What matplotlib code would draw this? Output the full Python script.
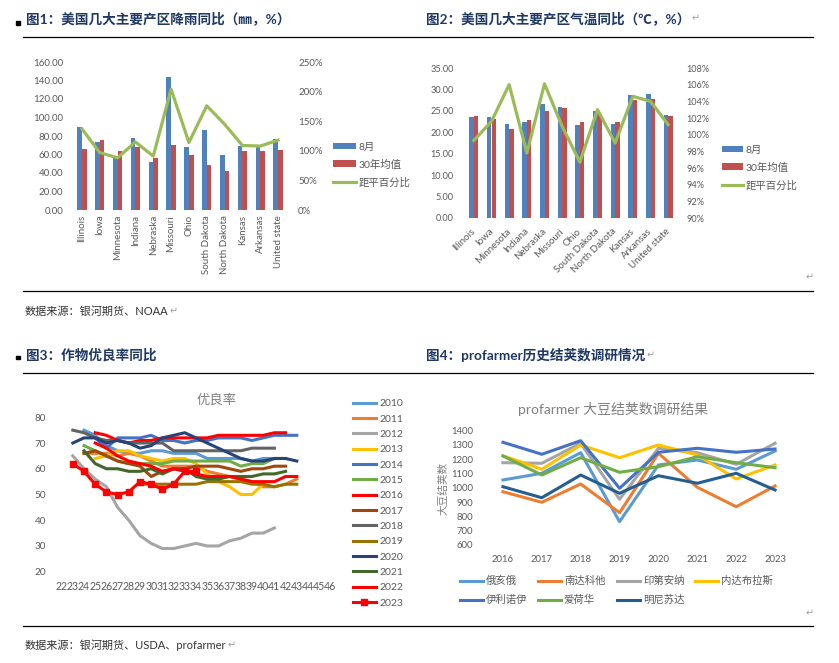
import numpy as np
import matplotlib
matplotlib.use("Agg")
import matplotlib.pyplot as plt
from matplotlib.lines import Line2D
from matplotlib.patches import Rectangle
from matplotlib.ticker import FuncFormatter

plt.rcParams['font.family'] = ['Lato', 'Noto Sans CJK SC', 'DejaVu Sans']

W, H = 839, 663
GRAY = '#595959'
NAVY = '#1F3864'

# ---- chart 1 / 2 data: rain and temperature by state ----
states = ['Illinois', 'Iowa', 'Minnesota', 'Indiana', 'Nebraska', 'Missouri', 'Ohio',
          'South Dakota', 'North Dakota', 'Kansas', 'Arkansas', 'United state']
rain_aug = [89.5, 73, 57.5, 78, 52, 143.5, 68.5, 87, 60, 69.5, 68.5, 77]
rain_avg = [66, 76, 64, 68.5, 56, 70, 60, 49, 42, 64, 64, 65]
rain_pct = [137, 97, 88, 115, 91, 204, 114, 176, 145, 109, 108, 118]

temp_aug = [23.6, 23.5, 21.9, 22.5, 26.5, 25.9, 21.7, 24.9, 22.0, 28.7, 28.9, 24.1]
temp_avg = [23.8, 23.1, 20.7, 22.9, 25.0, 25.7, 22.5, 24.2, 22.3, 27.5, 27.7, 23.9]
temp_pct = [99.3, 101.6, 106.0, 97.8, 106.1, 101.0, 96.7, 103.0, 99.0, 104.6, 104.0, 101.2]

# ---- chart 3 data: good/excellent rating by week ----
weeks = list(range(22, 47))
years = ['2010', '2011', '2012', '2013', '2014', '2015', '2016',
         '2017', '2018', '2019', '2020', '2021', '2022', '2023']
start_week = [24, 24, 23, 25, 25, 24, 25, 24, 23, 29, 23, 24, 25, 23]
gd_2010 = [75, 73, 69, 67, 66, 66, 67, 67, 66, 66, 66, 64, 64, 64, 64, 63, 64, 64]
gd_2011 = [66, 66, 66, 65, 66, 65, 63, 61, 61, 61, 61, 59, 58, 57, 56, 55, 53, 53, 54, 56]
gd_2012 = [65, 60, 56, 53, 45, 40, 34, 31, 29, 29, 30, 31, 30, 30, 32, 33, 35, 35, 37]
gd_2013 = [64, 65, 67, 67, 65, 64, 63, 64, 64, 62, 58, 55, 53, 50, 50, 54]
gd_2014 = [72, 68, 72, 72, 72, 73, 71, 71, 70, 71, 71, 72, 72, 72, 71, 72, 73, 73, 73]
gd_2015 = [69, 67, 65, 63, 62, 62, 62, 62, 63, 63, 63, 63, 63, 63, 61, 62, 62, 64, 64]
gd_2016 = [74, 73, 71, 70, 71, 71, 72, 72, 72, 72, 72, 73, 73, 73, 73, 73, 74, 74]
gd_2017 = [66, 67, 65, 63, 62, 61, 57, 59, 60, 60, 61, 61, 61, 60, 59, 60, 60, 61, 61]
gd_2018 = [75, 74, 72, 71, 71, 70, 70, 70, 70, 67, 67, 67, 67, 67, 67, 67, 68, 68, 68]
gd_2019 = [54, 54, 54, 54, 54, 54, 55, 55, 55, 55, 54, 54, 53, 54, 54]
gd_2020 = [70, 72, 72, 70, 71, 70, 68, 69, 72, 73, 74, 72, 70, 68, 66, 64, 63, 63, 64, 64, 63]
gd_2021 = [67, 62, 60, 60, 59, 59, 60, 58, 60, 60, 57, 56, 56, 57, 57, 57, 58, 58, 59]
gd_2022 = [70, 68, 65, 63, 62, 61, 59, 60, 59, 58, 57, 57, 57, 56, 55, 55, 55, 57, 57]
gd_2023 = [62, 59, 54, 51, 50, 51, 55, 54, 52, 54, 59, 59]
gd_all = [gd_2010, gd_2011, gd_2012, gd_2013, gd_2014, gd_2015, gd_2016,
          gd_2017, gd_2018, gd_2019, gd_2020, gd_2021, gd_2022, gd_2023]
year_colors = ['#5B9BD5', '#ED7D31', '#A5A5A5', '#FFC000', '#4472C4', '#70AD47', '#FF0000',
               '#9E480E', '#636363', '#997300', '#264478', '#43682B', '#FF0000', '#FF0000']

# ---- chart 4 data: profarmer pod counts ----
tour_years = ['2016', '2017', '2018', '2019', '2020', '2021', '2022', '2023']
pods_ohio = [1055, 1102, 1246, 763, 1160, 1195, 1130, 1258]
pods_sd = [973, 899, 1027, 826, 1242, 1004, 868, 1013]
pods_indiana = [1176, 1172, 1312, 920, 1277, 1246, 1165, 1312]
pods_nebraska = [1225, 1130, 1300, 1211, 1300, 1230, 1062, 1160]
pods_illinois = [1319, 1235, 1330, 997, 1249, 1277, 1249, 1272]
pods_iowa = [1223, 1090, 1211, 1109, 1148, 1218, 1176, 1141]
pods_minnesota = [1008, 931, 1090, 962, 1085, 1032, 1102, 985]
tour_states = ['俄亥俄', '南达科他', '印第安纳', '内达布拉斯', '伊利诺伊', '爱荷华', '明尼苏达']
tour_colors = ['#5B9BD5', '#ED7D31', '#A5A5A5', '#FFC000', '#4472C4', '#70AD47', '#255E91']


def box(l, t, r, b):
    return [l / W, 1 - b / H, (r - l) / W, (b - t) / H]


def fpt(x, y):
    return x / W, 1 - y / H


def clean(ax):
    for s in ax.spines.values():
        s.set_visible(False)
    ax.tick_params(length=0, labelcolor=GRAY)


fig = plt.figure(figsize=(W / 100, H / 100), dpi=100)

# ---------------- chart 1 ----------------
ax1 = fig.add_axes(box(73, 62, 287, 210))
x = np.arange(len(states))
b1 = ax1.bar(x - 0.13, rain_aug, 0.26, color='#4F81BD')
b2 = ax1.bar(x + 0.13, rain_avg, 0.26, color='#C0504D')
ax1.set_xlim(-0.5, len(states) - 0.5)
ax1.set_ylim(0, 160)
ax1.set_yticks(np.arange(0, 161, 20))
ax1.yaxis.set_major_formatter(FuncFormatter(lambda v, p: f'{v:.2f}'))
ax1.set_xticks(x)
ax1.set_xticklabels(states, rotation=90)
clean(ax1)
ax1.tick_params(axis='y', labelsize=7, pad=7)
ax1.tick_params(axis='x', labelsize=7, pad=3.5)
ax1r = ax1.twinx()
l1, = ax1r.plot(x, rain_pct, color='#9BBB59', lw=2.3)
ax1r.set_ylim(0, 250)
ax1r.set_yticks(np.arange(0, 251, 50))
ax1r.yaxis.set_major_formatter(FuncFormatter(lambda v, p: f'{v:.0f}%'))
clean(ax1r)
ax1r.tick_params(labelsize=7, pad=8)
ax1r.legend([b1, b2, l1], ['8月', '30年均值', '距平百分比'], loc='center left',
            bbox_to_anchor=fpt(333, 165), bbox_transform=fig.transFigure, frameon=False,
            fontsize=7.5, handlelength=2.2, handleheight=0.6, handletextpad=0.25,
            labelspacing=0.75, borderpad=0, borderaxespad=0, labelcolor=GRAY)

# ---------------- chart 2 ----------------
ax2 = fig.add_axes(box(465, 68, 677, 218))
b3 = ax2.bar(x - 0.13, temp_aug, 0.26, color='#4F81BD')
b4 = ax2.bar(x + 0.13, temp_avg, 0.26, color='#C0504D')
ax2.set_xlim(-0.5, len(states) - 0.5)
ax2.set_ylim(0, 35)
ax2.set_yticks(np.arange(0, 35.1, 5))
ax2.yaxis.set_major_formatter(FuncFormatter(lambda v, p: f'{v:.2f}'))
ax2.set_xticks(x)
ax2.set_xticklabels(states, rotation=45, ha='right', va='center', rotation_mode='anchor')
clean(ax2)
ax2.tick_params(axis='y', labelsize=6.6, pad=8)
ax2.tick_params(axis='x', labelsize=7, pad=8.5)
ax2r = ax2.twinx()
l2, = ax2r.plot(x, temp_pct, color='#9BBB59', lw=2.3)
ax2r.set_ylim(90, 108)
ax2r.set_yticks(np.arange(90, 108.1, 2))
ax2r.yaxis.set_major_formatter(FuncFormatter(lambda v, p: f'{v:.0f}%'))
clean(ax2r)
ax2r.tick_params(labelsize=6.6, pad=7)
ax2r.legend([b3, b4, l2], ['8月', '30年均值', '距平百分比'], loc='center left',
            bbox_to_anchor=fpt(722, 168), bbox_transform=fig.transFigure, frameon=False,
            fontsize=7.5, handlelength=2.0, handleheight=0.6, handletextpad=0.25,
            labelspacing=0.75, borderpad=0, borderaxespad=0, labelcolor=GRAY)

# ---------------- chart 3 ----------------
ax3 = fig.add_axes(box(56, 417.3, 336, 571.7))
handles = []
for yr, st, vals, c in zip(years, start_week, gd_all, year_colors):
    wk = np.arange(st, st + len(vals))
    if yr == '2023':
        h, = ax3.plot(wk, vals, color=c, lw=2.2, marker='s', ms=4.5)
    else:
        h, = ax3.plot(wk, vals, color=c, lw=2.2)
    handles.append(h)
ax3.set_xlim(weeks[0] - 0.5, weeks[-1] + 0.5)
ax3.set_ylim(20, 80)
ax3.set_yticks(np.arange(20, 81, 10))
ax3.set_xticks(weeks)
ax3.set_xticklabels([str(w) for w in weeks])
clean(ax3)
ax3.tick_params(axis='y', labelsize=7.2, pad=7)
ax3.tick_params(axis='x', labelsize=7.6, pad=6.5)
fig.text(*fpt(217, 400), '优良率', fontsize=9.6, color='#7F7F7F', ha='center', va='center')
ax3.legend(handles, years, loc='upper left', bbox_to_anchor=fpt(353, 399),
           bbox_transform=fig.transFigure, frameon=False, fontsize=7.5, handlelength=2.2,
           handletextpad=0.3, labelspacing=0.58, borderpad=0, borderaxespad=0,
           labelcolor=GRAY)

# ---------------- chart 4 ----------------
ax4 = fig.add_axes(box(483.5, 430.7, 794.5, 545))
xi = np.arange(len(tour_years))
pods_all = [pods_ohio, pods_sd, pods_indiana, pods_nebraska, pods_illinois, pods_iowa, pods_minnesota]
for vals, c in zip(pods_all, tour_colors):
    ax4.plot(xi, vals, color=c, lw=2.2)
ax4.set_xlim(-0.5, len(tour_years) - 0.5)
ax4.set_ylim(600, 1400)
ax4.set_yticks(np.arange(600, 1401, 100))
ax4.set_xticks(xi)
ax4.set_xticklabels(tour_years)
clean(ax4)
ax4.tick_params(axis='y', labelsize=6.8, pad=7.5)
ax4.tick_params(axis='x', labelsize=6.8, pad=7)
fig.text(*fpt(443, 488), '大豆结荚数', fontsize=7.7, color='#7F7F7F', rotation=90,
         ha='center', va='center')
fig.text(*fpt(613, 409), 'profarmer 大豆结荚数调研结果', fontsize=10, color='#7F7F7F',
         ha='center', va='center')
leg_x = [460, 538, 617, 695, 460, 538, 617]
leg_y = [581, 581, 581, 581, 600, 600, 600]
for name, c, lx, ly in zip(tour_states, tour_colors, leg_x, leg_y):
    fig.add_artist(Line2D([lx / W, (lx + 23) / W], [1 - ly / H] * 2, color=c, lw=2.2))
    fig.text(*fpt(lx + 26, ly), name, fontsize=7.5, color=GRAY, va='center')

# ---------------- page decorations ----------------
for yy, x0, x1 in [(37.3, 23, 813), (291, 23, 813), (373.3, 23, 813), (626, 23, 813)]:
    fig.add_artist(Line2D([x0 / W, x1 / W], [1 - yy / H] * 2, color='black', lw=0.9))
for by in [22.5, 357]:
    fig.add_artist(Rectangle(((16) / W, 1 - (by + 2) / H), 3.5 / W, 3.5 / H, color='black'))

t1 = fig.text(*fpt(26, 18), '图1：美国几大主要产区降雨同比（㎜，%）', fontsize=9.8,
              fontweight='bold', color=NAVY, va='center')
t2 = fig.text(*fpt(426, 18), '图2：美国几大主要产区气温同比（℃，%）', fontsize=9.8,
              fontweight='bold', color=NAVY, va='center')
t3 = fig.text(*fpt(26, 355), '图3：作物优良率同比', fontsize=9.8,
              fontweight='bold', color=NAVY, va='center')
t4 = fig.text(*fpt(426, 355), '图4：profarmer历史结荚数调研情况', fontsize=9.8,
              fontweight='bold', color=NAVY, va='center')
s1 = fig.text(*fpt(25, 311), '数据来源：银河期货、NOAA', fontsize=8, color='#333333', va='center')
s2 = fig.text(*fpt(25, 645), '数据来源：银河期货、USDA、profarmer', fontsize=8, color='#333333',
              va='center')

fig.canvas.draw()
rend = fig.canvas.get_renderer()
for t in [t2, t4, s1, s2]:
    bb = t.get_window_extent(rend)
    fig.text((bb.x1 + 1) / W, (bb.y0 + bb.y1) / 2 / H, '↵', fontsize=7, color='#A0A0A0',
             va='center', family='DejaVu Sans')
for ay in [277, 613]:
    fig.text(*fpt(810, ay), '↵', fontsize=7, color='#A0A0A0', va='center', ha='center',
             family='DejaVu Sans')

fig.savefig('out.png', dpi=100)
